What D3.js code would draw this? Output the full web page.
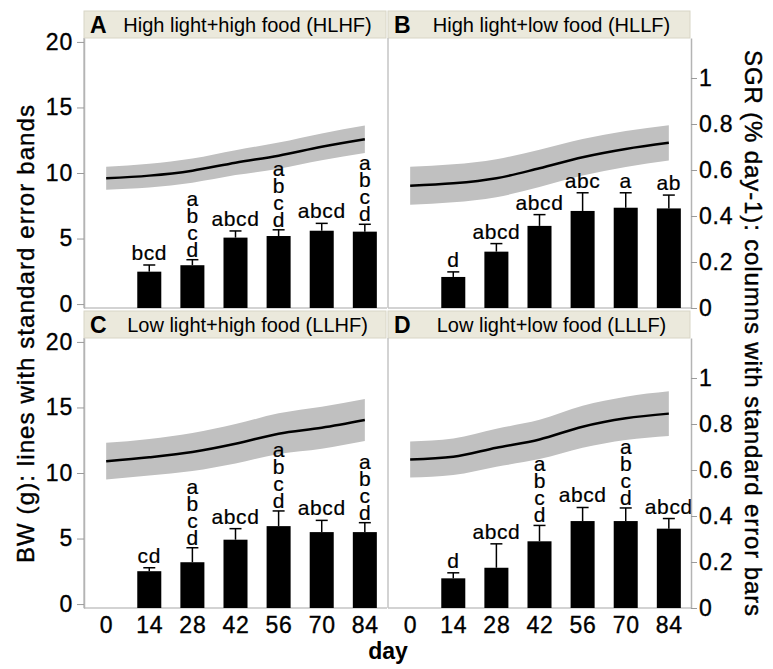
<!DOCTYPE html>
<html>
<head>
<meta charset="utf-8">
<script src="https://cdn.jsdelivr.net/npm/d3@7"></script>
<style>
  body { margin: 0; background: #fff; }
  svg text { font-family: "Liberation Sans", Arial, sans-serif; }
</style>
</head>
<body>
<div id="chart"></div>
<script>
// days of sampling
var days = [0, 14, 28, 42, 56, 70, 84];
var barDays = [14, 28, 42, 56, 70, 84];

var panelLetters = ["A", "B", "C", "D"];
var panelTitles = ["High light+high food (HLHF)", "High light+low food (HLLF)",
                   "Low light+high food (LLHF)", "Low light+low food (LLLF)"];

// body weight (g), mean and standard error
var bwMeanA = [9.6, 9.8, 10.18, 10.79, 11.32, 12.0, 12.57];
var bwSeA   = [0.87, 0.9, 0.92, 0.95, 1.0, 1.02, 1.05];
var bwMeanB = [9.03, 9.21, 9.6, 10.36, 11.2, 11.83, 12.3];
var bwSeB   = [1.45, 1.45, 1.45, 1.42, 1.4, 1.38, 1.35];
var bwMeanC = [10.9, 11.2, 11.6, 12.23, 13.0, 13.45, 14.04];
var bwSeC   = [1.4, 1.4, 1.45, 1.5, 1.55, 1.6, 1.6];
var bwMeanD = [11.03, 11.24, 11.93, 12.56, 13.53, 14.17, 14.53];
var bwSeD   = [1.38, 1.4, 1.45, 1.5, 1.6, 1.65, 1.7];

// SGR (% day-1), mean and standard error
var sgrA   = [0.158, 0.186, 0.306, 0.313, 0.336, 0.332];
var sgrSeA = [0.029, 0.024, 0.029, 0.027, 0.032, 0.032];
var sgrB   = [0.135, 0.245, 0.357, 0.422, 0.436, 0.433];
var sgrSeB = [0.022, 0.035, 0.049, 0.079, 0.065, 0.058];
var sgrC   = [0.160, 0.199, 0.297, 0.356, 0.330, 0.330];
var sgrSeC = [0.015, 0.063, 0.048, 0.066, 0.051, 0.041];
var sgrD   = [0.129, 0.175, 0.290, 0.378, 0.378, 0.345];
var sgrSeD = [0.024, 0.104, 0.069, 0.059, 0.057, 0.044];

// significance letters
var lettersA = ["bcd", "abcd", "abcd", "abcd", "abcd", "abcd"];
var lettersB = ["d", "abcd", "abcd", "abc", "a", "ab"];
var lettersC = ["cd", "abcd", "abcd", "abcd", "abcd", "abcd"];
var lettersD = ["d", "abcd", "abcd", "abcd", "abcd", "abcd"];
var stackA = [false, true, false, true, false, true];
var stackB = [false, false, false, false, false, false];
var stackC = [false, true, false, true, false, true];
var stackD = [false, false, true, false, true, false];

var bwTicks = [0, 5, 10, 15, 20];
var sgrTicks = [0, 0.2, 0.4, 0.6, 0.8, 1];

function init() {

	var w = 773;
	var h = 669;

	var colLeft = [84, 388];
	var colW = 303;
	var rowTop = [11, 311];
	var headH = 27;
	var plotH = 270;

	var panels = [
		{ mean: bwMeanA, se: bwSeA, sgr: sgrA, sgrSe: sgrSeA, lab: lettersA, stack: stackA },
		{ mean: bwMeanB, se: bwSeB, sgr: sgrB, sgrSe: sgrSeB, lab: lettersB, stack: stackB },
		{ mean: bwMeanC, se: bwSeC, sgr: sgrC, sgrSe: sgrSeC, lab: lettersC, stack: stackC },
		{ mean: bwMeanD, se: bwSeD, sgr: sgrD, sgrSe: sgrSeD, lab: lettersD, stack: stackD }
	];

	var svg = d3.select("#chart")
							.append("svg")
							.attr("width", w)
							.attr("height", h);

	panels.forEach(function(p, k) {
		var col = k % 2, row = Math.floor(k / 2);
		var left = colLeft[col];
		var top = rowTop[row] + headH;
		var bottom = top + plotH;

		var x = d3.scaleLinear().domain([-7.2, 91.2]).range([left, left + colW]);
		var yL = d3.scaleLinear().domain([-0.3, 20.3]).range([bottom, top]);
		var yR = d3.scaleLinear().domain([0, 1.174]).range([bottom, top]);

		var g = svg.append("g");

		// header strip
		g.append("rect")
			.attr("x", left).attr("y", rowTop[row])
			.attr("width", colW - 1).attr("height", headH)
			.attr("fill", "#ebe9dc")
			.attr("stroke", "#d8d5c6");
		g.append("text")
			.attr("x", left + 6).attr("y", rowTop[row] + 22)
			.attr("font-size", 23).attr("font-weight", "bold")
			.text(panelLetters[k]);
		g.append("text")
			.attr("x", left + colW / 2 + 12).attr("y", rowTop[row] + 21)
			.attr("text-anchor", "middle")
			.attr("font-size", 20)
			.text(panelTitles[k]);

		// frame lines
		g.append("line")
			.attr("x1", left).attr("x2", left)
			.attr("y1", top).attr("y2", bottom)
			.attr("stroke", "#c4c4c4").attr("stroke-width", 1.5);
		g.append("line")
			.attr("x1", left).attr("x2", left + colW)
			.attr("y1", bottom).attr("y2", bottom)
			.attr("stroke", "#c4c4c4").attr("stroke-width", 1.5);

		// standard error band + line
		var pts = days.map(function(d, i) { return { day: d, m: p.mean[i], s: p.se[i] }; });

		var band = d3.area()
			.curve(d3.curveMonotoneX)
			.x(function(d) { return x(d.day); })
			.y0(function(d) { return yL(d.m - d.s); })
			.y1(function(d) { return yL(d.m + d.s); });
		g.append("path").datum(pts)
			.attr("d", band)
			.attr("fill", "#c0c0c0");

		var line = d3.line()
			.curve(d3.curveMonotoneX)
			.x(function(d) { return x(d.day); })
			.y(function(d) { return yL(d.m); });
		g.append("path").datum(pts)
			.attr("d", line)
			.attr("fill", "none")
			.attr("stroke", "#000")
			.attr("stroke-width", 2.5);

		// SGR columns
		var bars = barDays.map(function(d, i) {
			return { day: d, v: p.sgr[i], se: p.sgrSe[i], lab: p.lab[i], stack: p.stack[i] };
		});
		var half = 3.9;

		g.selectAll("rect.bar")
			.data(bars)
			.enter()
			.append("rect")
			.attr("class", "bar")
			.attr("x", function(d) { return x(d.day - half); })
			.attr("y", function(d) { return yR(d.v); })
			.attr("width", function(d) { return x(d.day + half) - x(d.day - half); })
			.attr("height", function(d) { return yR(0) - yR(d.v); })
			.attr("fill", "#000");

		g.selectAll("line.err")
			.data(bars)
			.enter()
			.append("line")
			.attr("class", "err")
			.attr("x1", function(d) { return x(d.day); })
			.attr("x2", function(d) { return x(d.day); })
			.attr("y1", function(d) { return yR(d.v); })
			.attr("y2", function(d) { return yR(d.v + d.se); })
			.attr("stroke", "#000").attr("stroke-width", 1.5);
		g.selectAll("line.cap")
			.data(bars)
			.enter()
			.append("line")
			.attr("class", "cap")
			.attr("x1", function(d) { return x(d.day) - 6; })
			.attr("x2", function(d) { return x(d.day) + 6; })
			.attr("y1", function(d) { return yR(d.v + d.se); })
			.attr("y2", function(d) { return yR(d.v + d.se); })
			.attr("stroke", "#000").attr("stroke-width", 1.5);

		// letters (stacked ones go in one text element, one tspan per letter)
		bars.forEach(function(d) {
			var yTop = yR(d.v + d.se);
			var t = g.append("text")
				.attr("text-anchor", "middle")
				.attr("font-size", 21)
				.attr("stroke", "#000").attr("stroke-width", 0.2);
			if (d.stack) {
				var chars = d.lab.split("");
				var n = chars.length;
				chars.forEach(function(ch, i) {
					t.append("tspan")
						.attr("x", x(d.day))
						.attr("y", yTop - 3 - (n - 1 - i) * 17)
						.text(ch);
				});
			} else {
				t.attr("x", x(d.day)).attr("y", yTop - 5)
					.attr("letter-spacing", 0.6)
					.text(d.lab);
			}
		});

		// axes
		if (col == 0) {
			var ax = g.append("g")
				.attr("transform", "translate(" + left + ",0)")
				.call(d3.axisLeft(yL).tickValues(bwTicks).tickSize(7).tickSizeOuter(0).tickPadding(4));
			styleAxis(ax);
		} else {
			var ax2 = g.append("g")
				.attr("transform", "translate(" + (left + colW) + ",0)")
				.call(d3.axisRight(yR).tickValues(sgrTicks).tickFormat(d3.format("~g"))
					.tickSize(6).tickSizeOuter(0).tickPadding(2));
			styleAxis(ax2);
		}
		if (row == 1) {
			var ax3 = g.append("g")
				.attr("transform", "translate(0," + bottom + ")")
				.call(d3.axisBottom(x).tickValues(days).tickSize(0).tickPadding(9));
			styleAxis(ax3);
			ax3.select(".domain").remove();
		}
	});

	function styleAxis(a) {
		a.select(".domain").attr("stroke", "#b4b4b4").attr("stroke-width", 1.5);
		a.selectAll(".tick line").attr("stroke", "#9a9a9a");
		a.selectAll(".tick text")
			.attr("font-size", 23)
			.attr("letter-spacing", 0.8)
			.attr("fill", "#000")
			.attr("stroke", "#000")
			.attr("stroke-width", 0.35)
			.style("font-family", "'Liberation Sans', Arial, sans-serif");
	}

	// axis titles
	svg.append("text")
		.attr("transform", "translate(34,334) rotate(-90)")
		.attr("text-anchor", "middle")
		.attr("font-size", 24)
		.attr("stroke", "#000").attr("stroke-width", 0.4)
		.attr("textLength", 458)
		.attr("lengthAdjust", "spacing")
		.text("BW (g): lines with standard error bands");

	svg.append("text")
		.attr("transform", "translate(745,333) rotate(90)")
		.attr("text-anchor", "middle")
		.attr("font-size", 24)
		.attr("stroke", "#000").attr("stroke-width", 0.4)
		.attr("textLength", 566)
		.attr("lengthAdjust", "spacing")
		.text("SGR (% day-1): columns with standard error bars");

	svg.append("text")
		.attr("x", 388).attr("y", 659)
		.attr("text-anchor", "middle")
		.attr("font-size", 23)
		.attr("font-weight", "bold")
		.text("day");
}

window.onload = init;
</script>
</body>
</html>
